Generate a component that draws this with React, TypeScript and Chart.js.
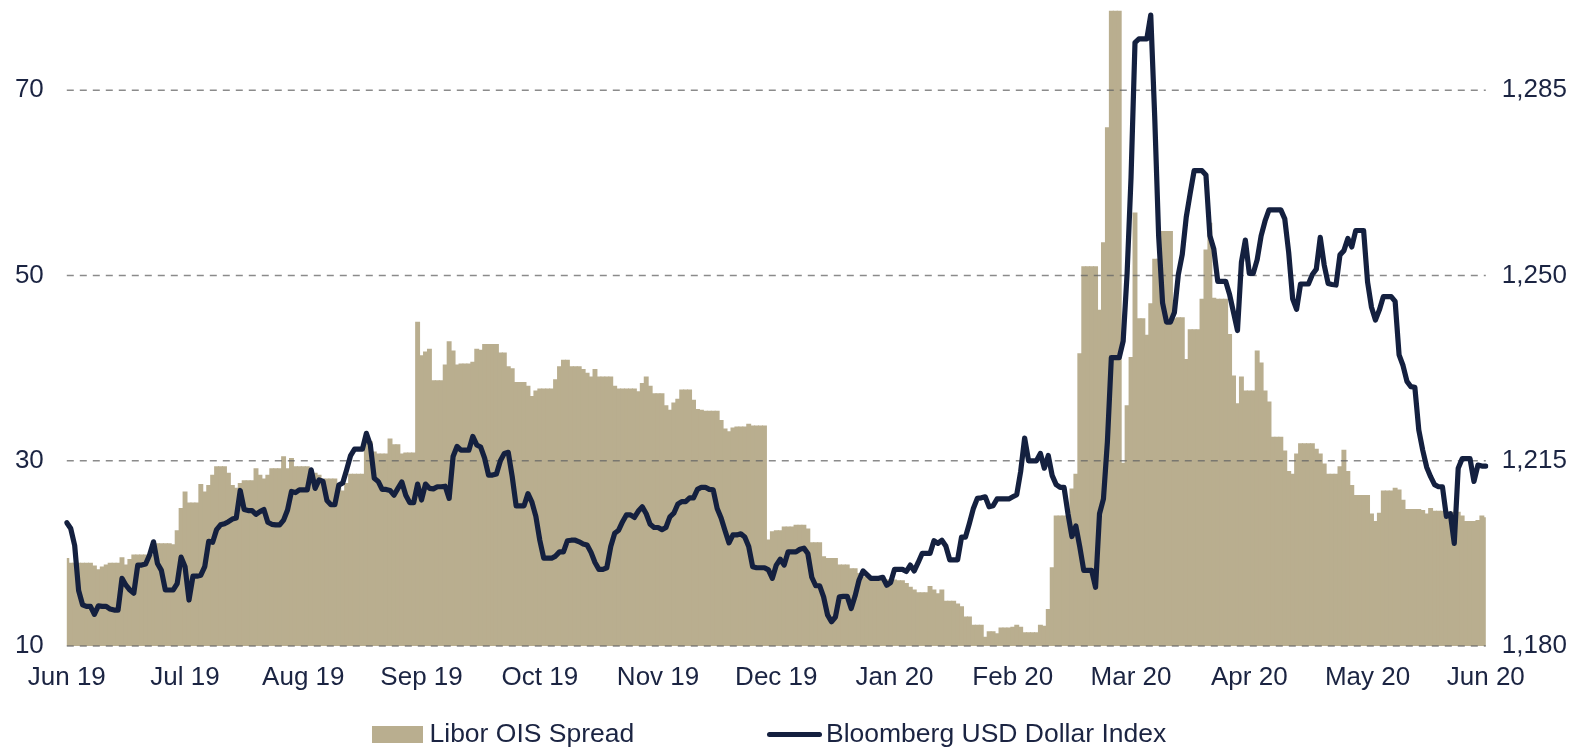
import React, { useEffect, useRef } from 'react';
import { Chart, registerables } from 'chart.js';

Chart.register(...registerables);

// ---- data -------------------------------------------------------------
const MONTH_LABELS = ['Jun 19', 'Jul 19', 'Aug 19', 'Sep 19', 'Oct 19', 'Nov 19', 'Dec 19', 'Jan 20', 'Feb 20', 'Mar 20', 'Apr 20', 'May 20', 'Jun 20'];
const DAYS_PER_LABEL = 30;
const LIBOR_TICKS = [10, 30, 50, 70];
const USD_TICKS = [1180, 1215, 1250, 1285];
const LIBOR_MIN = 10;
const USD_MIN = 1180;
const USD_MAX = 1300;

const LIBOR_OIS = [
  19.5, 19.0, 19.0, 19.0, 19.0, 19.0, 19.0, 18.7, 18.3, 18.6,
  18.8, 19.0, 19.0, 19.0, 19.6, 18.8, 19.4, 19.9, 19.9, 19.9,
  19.9, 19.9, 19.9, 21.1, 21.1, 21.1, 21.1, 21.0, 22.5, 24.9,
  26.7, 25.5, 25.5, 25.5, 27.5, 26.7, 27.4, 28.5, 29.4, 29.4,
  29.4, 28.7, 27.4, 27.1, 27.6, 27.9, 27.9, 27.9, 29.2, 28.5,
  28.1, 28.5, 29.2, 29.2, 29.2, 30.5, 29.2, 30.3, 29.4, 29.4,
  29.4, 29.4, 29.0, 28.7, 28.5, 28.1, 28.1, 28.1, 28.1, 27.6,
  26.8, 27.6, 28.6, 28.6, 28.6, 28.6, 32.1, 32.1, 31.0, 30.8,
  30.8, 30.8, 32.4, 31.8, 31.8, 30.8, 30.9, 30.9, 30.9, 45.0,
  41.4, 41.8, 42.1, 38.7, 38.7, 38.7, 40.4, 42.9, 41.9, 40.4,
  40.5, 40.5, 40.5, 40.7, 42.1, 42.0, 42.6, 42.6, 42.6, 42.6,
  41.7, 41.7, 40.2, 40.0, 38.5, 38.5, 38.5, 38.1, 37.0, 37.6,
  37.8, 37.8, 37.8, 37.8, 38.8, 40.2, 40.9, 40.9, 40.2, 40.2,
  40.2, 39.9, 39.5, 39.1, 39.9, 39.1, 39.1, 39.1, 39.1, 38.1,
  37.8, 37.8, 37.8, 37.8, 37.8, 37.5, 38.4, 39.1, 38.1, 37.3,
  37.3, 37.3, 36.0, 35.5, 36.3, 36.7, 37.7, 37.7, 37.7, 36.6,
  35.6, 35.5, 35.4, 35.4, 35.4, 35.4, 34.4, 33.5, 33.2, 33.6,
  33.7, 33.7, 33.7, 34.0, 33.8, 33.8, 33.8, 33.8, 21.5, 22.4,
  22.5, 22.5, 22.9, 22.9, 22.9, 23.1, 23.1, 23.1, 22.7, 21.2,
  21.2, 21.2, 19.7, 19.5, 19.5, 19.5, 18.8, 18.8, 18.8, 18.4,
  18.4, 17.9, 17.5, 17.5, 17.4, 17.4, 17.4, 17.4, 17.2, 17.2,
  17.2, 17.1, 17.1, 16.8, 16.4, 16.1, 15.8, 15.8, 15.8, 16.5,
  16.1, 15.7, 16.1, 14.9, 14.9, 14.9, 14.6, 14.3, 13.2, 13.2,
  12.3, 12.3, 12.3, 11.0, 11.6, 11.6, 11.4, 12.0, 12.0, 12.0,
  12.1, 12.3, 12.1, 11.5, 11.5, 11.5, 11.5, 12.3, 12.2, 14.0,
  18.5, 24.1, 24.1, 24.1, 24.1, 27.0, 28.6, 41.6, 51.0, 51.0,
  51.0, 51.0, 46.3, 53.6, 66.0, 80.0, 80.0, 80.0, 29.8, 36.0,
  41.2, 56.8, 45.4, 45.4, 43.6, 47.0, 51.8, 51.8, 54.8, 54.8,
  54.8, 45.4, 45.5, 45.5, 41.0, 44.2, 44.2, 44.2, 47.5, 52.8,
  55.7, 47.6, 47.5, 47.5, 47.5, 43.7, 39.2, 36.2, 39.1, 37.6,
  37.6, 37.6, 41.9, 40.6, 37.6, 36.4, 32.6, 32.6, 32.6, 31.1,
  28.9, 28.6, 30.8, 31.9, 31.9, 31.9, 31.9, 31.3, 30.8, 29.7,
  28.6, 28.6, 28.6, 29.4, 31.2, 28.9, 27.4, 26.3, 26.3, 26.3,
  26.3, 24.3, 23.5, 24.4, 26.8, 26.8, 26.8, 27.1, 26.9, 25.8,
  24.8, 24.8, 24.8, 24.8, 24.7, 24.3, 24.9, 24.6, 24.6, 24.6,
  24.5, 24.5, 24.5, 24.5, 24.1, 23.5, 23.5, 23.5, 23.6, 24.1,
  23.9,
];

const USD_INDEX = [
  1203.3, 1202.2, 1199.0, 1190.5, 1187.8, 1187.5, 1187.5, 1186.0, 1187.6, 1187.5,
  1187.5, 1187.0, 1186.8, 1186.8, 1192.8, 1191.5, 1190.6, 1190.0, 1195.3, 1195.3,
  1195.5, 1197.2, 1199.7, 1195.6, 1194.3, 1190.6, 1190.6, 1190.6, 1191.8, 1196.8,
  1195.0, 1188.7, 1193.2, 1193.2, 1193.4, 1195.0, 1199.8, 1199.6, 1202.0, 1202.9,
  1203.1, 1203.5, 1204.0, 1204.2, 1209.4, 1205.8, 1205.6, 1205.6, 1204.9, 1205.4,
  1205.8, 1203.4, 1203.0, 1202.9, 1202.9, 1203.8, 1205.7, 1209.2, 1209.0, 1209.5,
  1209.5, 1209.5, 1213.3, 1209.8, 1211.4, 1211.1, 1207.5, 1206.7, 1206.7, 1210.4,
  1210.8, 1213.3, 1216.0, 1217.2, 1217.2, 1217.2, 1220.2, 1218.0, 1211.7, 1211.1,
  1209.6, 1209.6, 1209.4, 1208.5, 1209.8, 1211.0, 1208.5, 1207.1, 1207.1, 1210.6,
  1207.6, 1210.6, 1209.8, 1209.7, 1210.1, 1210.1, 1210.2, 1207.9, 1215.8, 1217.7,
  1217.0, 1217.0, 1217.0, 1219.6, 1218.0, 1217.6, 1215.5, 1212.3, 1212.3, 1212.5,
  1215.0, 1216.4, 1216.6, 1212.0, 1206.5, 1206.5, 1206.5, 1208.8, 1207.2, 1204.5,
  1200.0, 1196.6, 1196.6, 1196.6, 1197.0, 1197.8, 1197.8, 1199.9, 1200.0, 1200.0,
  1199.7, 1199.3, 1199.1, 1197.7, 1195.8, 1194.5, 1194.5, 1194.8, 1198.8, 1201.3,
  1201.9, 1203.5, 1204.8, 1204.8, 1204.3, 1205.5, 1206.3, 1205.0, 1203.0, 1202.4,
  1202.4, 1202.0, 1202.4, 1204.4, 1205.1, 1206.8, 1207.3, 1207.3, 1208.0, 1208.0,
  1209.6, 1210.0, 1210.0, 1209.6, 1209.5, 1206.0, 1204.2, 1201.8, 1199.5, 1201.0,
  1201.0, 1201.2, 1200.6, 1198.8, 1195.0, 1194.8, 1194.8, 1194.8, 1194.4, 1192.8,
  1195.3, 1196.4, 1195.3, 1197.8, 1197.8, 1197.8, 1198.3, 1198.5, 1197.5, 1193.0,
  1191.4, 1191.4, 1189.3, 1185.9, 1184.6, 1185.5, 1189.3, 1189.4, 1189.4, 1187.1,
  1189.5, 1192.5, 1194.2, 1193.5, 1192.8, 1192.8, 1192.8, 1193.0, 1191.5, 1192.0,
  1194.5, 1194.5, 1194.5, 1194.1, 1195.3, 1194.2, 1195.8, 1197.5, 1197.5, 1197.5,
  1199.9, 1199.4, 1200.0, 1198.9, 1196.3, 1196.3, 1196.3, 1200.6, 1200.6, 1203.2,
  1206.0, 1207.9, 1208.0, 1208.2, 1206.3, 1206.5, 1207.8, 1207.8, 1207.8, 1207.8,
  1208.2, 1208.6, 1213.0, 1219.3, 1215.0, 1215.0, 1215.0, 1216.4, 1213.6, 1216.0,
  1212.2, 1210.5, 1210.0, 1210.0, 1205.0, 1200.7, 1202.7, 1198.7, 1194.3, 1194.3,
  1194.3, 1191.1, 1205.0, 1207.8, 1218.6, 1234.5, 1234.5, 1234.5, 1237.6, 1250.4,
  1268.6, 1294.0, 1294.7, 1294.7, 1294.7, 1299.2, 1280.0, 1257.5, 1244.8, 1241.2,
  1241.2, 1243.0, 1250.2, 1254.0, 1261.0, 1265.5, 1269.8, 1269.8, 1269.8, 1269.0,
  1257.5, 1255.0, 1248.9, 1248.9, 1248.9, 1246.4, 1243.0, 1239.6, 1252.5, 1256.7,
  1250.4, 1250.4, 1253.0, 1257.5, 1260.3, 1262.4, 1262.4, 1262.4, 1262.4, 1260.7,
  1254.3, 1245.6, 1243.6, 1248.4, 1248.4, 1248.4, 1250.2, 1251.2, 1257.2, 1252.0,
  1248.5, 1248.3, 1248.2, 1253.9, 1254.7, 1257.0, 1255.4, 1258.5, 1258.5, 1258.5,
  1248.8, 1244.0, 1241.6, 1243.5, 1246.0, 1246.0, 1246.0, 1245.1, 1235.0, 1233.0,
  1230.0, 1229.0, 1228.9, 1220.8, 1217.0, 1213.8, 1212.0, 1210.5, 1210.1, 1210.1,
  1204.5, 1205.0, 1199.4, 1213.6, 1215.4, 1215.4, 1215.4, 1211.1, 1214.2, 1214.0,
  1214.0,
];

const DAY_INDEX = LIBOR_OIS.map((_, i) => String(i));

// ---- styling ------------------------------------------------------------
const BAR_COLOR = '#B9AE8F';
const LINE_COLOR = '#14203F';
const TEXT_COLOR = '#1B2442';
const FONT = '"Liberation Sans", Arial, sans-serif';
// left axis spans the same pixels as the right one: 20 units <-> 35 units
const LIBOR_MAX = LIBOR_MIN + ((USD_MAX - USD_MIN) * 20) / 35;

const W = 1588;
const H = 751;
const PLOT_LEFT = 66.8;
const PLOT_RIGHT = 1485.8;
const PLOT_TOP = 10.8;
const PLOT_BOTTOM = 646.1;

const dashedGrid = {
  id: 'dashedGrid',
  afterDatasetDraw(chart: any, args: any) {
    if (args.index !== 0) return;
    const { ctx, chartArea } = chart;
    const y = chart.scales.y;
    ctx.save();
    ctx.strokeStyle = 'rgba(100,100,100,0.75)';
    ctx.lineWidth = 1.5;
    ctx.setLineDash([7, 6]);
    for (const t of LIBOR_TICKS) {
      const py = y.getPixelForValue(t);
      ctx.beginPath();
      ctx.moveTo(chartArea.left, py);
      ctx.lineTo(chartArea.right, py);
      ctx.stroke();
    }
    ctx.restore();
  },
};

export default function App() {
  const ref = useRef<HTMLCanvasElement | null>(null);

  useEffect(() => {
    if (!ref.current) return;
    const chart = new Chart(ref.current, {
      type: 'bar',
      data: {
        labels: DAY_INDEX,
        datasets: [
          {
            type: 'bar',
            label: 'Libor OIS Spread',
            data: LIBOR_OIS,
            backgroundColor: BAR_COLOR,
            borderWidth: 0,
            barPercentage: 1.25,
            categoryPercentage: 1,
            yAxisID: 'y',
            order: 1,
          } as any,
          {
            type: 'line',
            label: 'Bloomberg USD Dollar Index',
            data: USD_INDEX,
            borderColor: LINE_COLOR,
            backgroundColor: LINE_COLOR,
            borderWidth: 5.2,
            pointRadius: 0,
            tension: 0,
            borderCapStyle: 'round',
            borderJoinStyle: 'round',
            fill: false,
            yAxisID: 'y1',
            order: 0,
          } as any,
        ],
      },
      options: {
        animation: false,
        responsive: false,
        maintainAspectRatio: false,
        layout: { padding: { top: PLOT_TOP, left: 0, right: 0, bottom: 0 } },
        plugins: { legend: { display: false }, tooltip: { enabled: false } },
        scales: {
          x: {
            type: 'category',
            offset: false,
            grid: { display: false, offset: false, drawTicks: false, tickLength: 0 },
            border: { display: false },
            afterBuildTicks: (s: any) => {
              s.ticks = MONTH_LABELS.map((_, k) => ({ value: k * DAYS_PER_LABEL }));
            },
            ticks: {
              autoSkip: false,
              maxRotation: 0,
              minRotation: 0,
              padding: 16,
              color: TEXT_COLOR,
              font: { family: FONT, size: 26 },
              callback: (v: any) => MONTH_LABELS[Math.round(Number(v) / DAYS_PER_LABEL)] ?? '',
            },
            afterFit: (s: any) => {
              s.height = H - PLOT_BOTTOM;
              s.paddingLeft = 0;
              s.paddingRight = 0;
            },
          },
          y: {
            type: 'linear',
            position: 'left',
            min: LIBOR_MIN,
            max: LIBOR_MAX,
            grid: { display: false, drawTicks: false, tickLength: 0 },
            border: { display: false },
            afterBuildTicks: (s: any) => {
              s.ticks = LIBOR_TICKS.map((v) => ({ value: v }));
            },
            ticks: {
              padding: 23,
              color: TEXT_COLOR,
              font: { family: FONT, size: 26 },
              callback: (v: any) => String(v),
            },
            afterFit: (s: any) => {
              s.width = PLOT_LEFT;
              s.paddingTop = 0;
              s.paddingBottom = 0;
            },
          },
          y1: {
            type: 'linear',
            position: 'right',
            min: USD_MIN,
            max: USD_MAX,
            grid: { display: false, drawTicks: false, tickLength: 0 },
            border: { display: false },
            afterBuildTicks: (s: any) => {
              s.ticks = USD_TICKS.map((v) => ({ value: v }));
            },
            ticks: {
              padding: 16,
              color: TEXT_COLOR,
              font: { family: FONT, size: 26 },
              callback: (v: any) => Number(v).toLocaleString('en-US'),
            },
            afterFit: (s: any) => {
              s.width = W - PLOT_RIGHT;
              s.paddingTop = 0;
              s.paddingBottom = 0;
            },
          },
        },
      } as any,
      plugins: [dashedGrid],
    });
    return () => chart.destroy();
  }, []);

  const legendText: React.CSSProperties = {
    position: 'absolute',
    top: 720,
    fontFamily: FONT,
    fontSize: 26.5,
    lineHeight: 1,
    color: TEXT_COLOR,
    whiteSpace: 'nowrap',
  };

  return (
    <div style={{ position: 'fixed', left: 0, top: 0, width: W, height: H, background: '#fff' }}>
      <canvas ref={ref} width={W} height={H} style={{ position: 'absolute', left: 0, top: 0, width: W, height: H }} />
      <div style={{ position: 'absolute', left: 372, top: 726, width: 51, height: 16.5, background: BAR_COLOR }} />
      <div style={{ ...legendText, left: 429.5 }}>Libor OIS Spread</div>
      <div style={{ position: 'absolute', left: 767, top: 731.5, width: 55, height: 5, borderRadius: 2.5, background: LINE_COLOR }} />
      <div style={{ ...legendText, left: 826 }}>Bloomberg USD Dollar Index</div>
    </div>
  );
}
